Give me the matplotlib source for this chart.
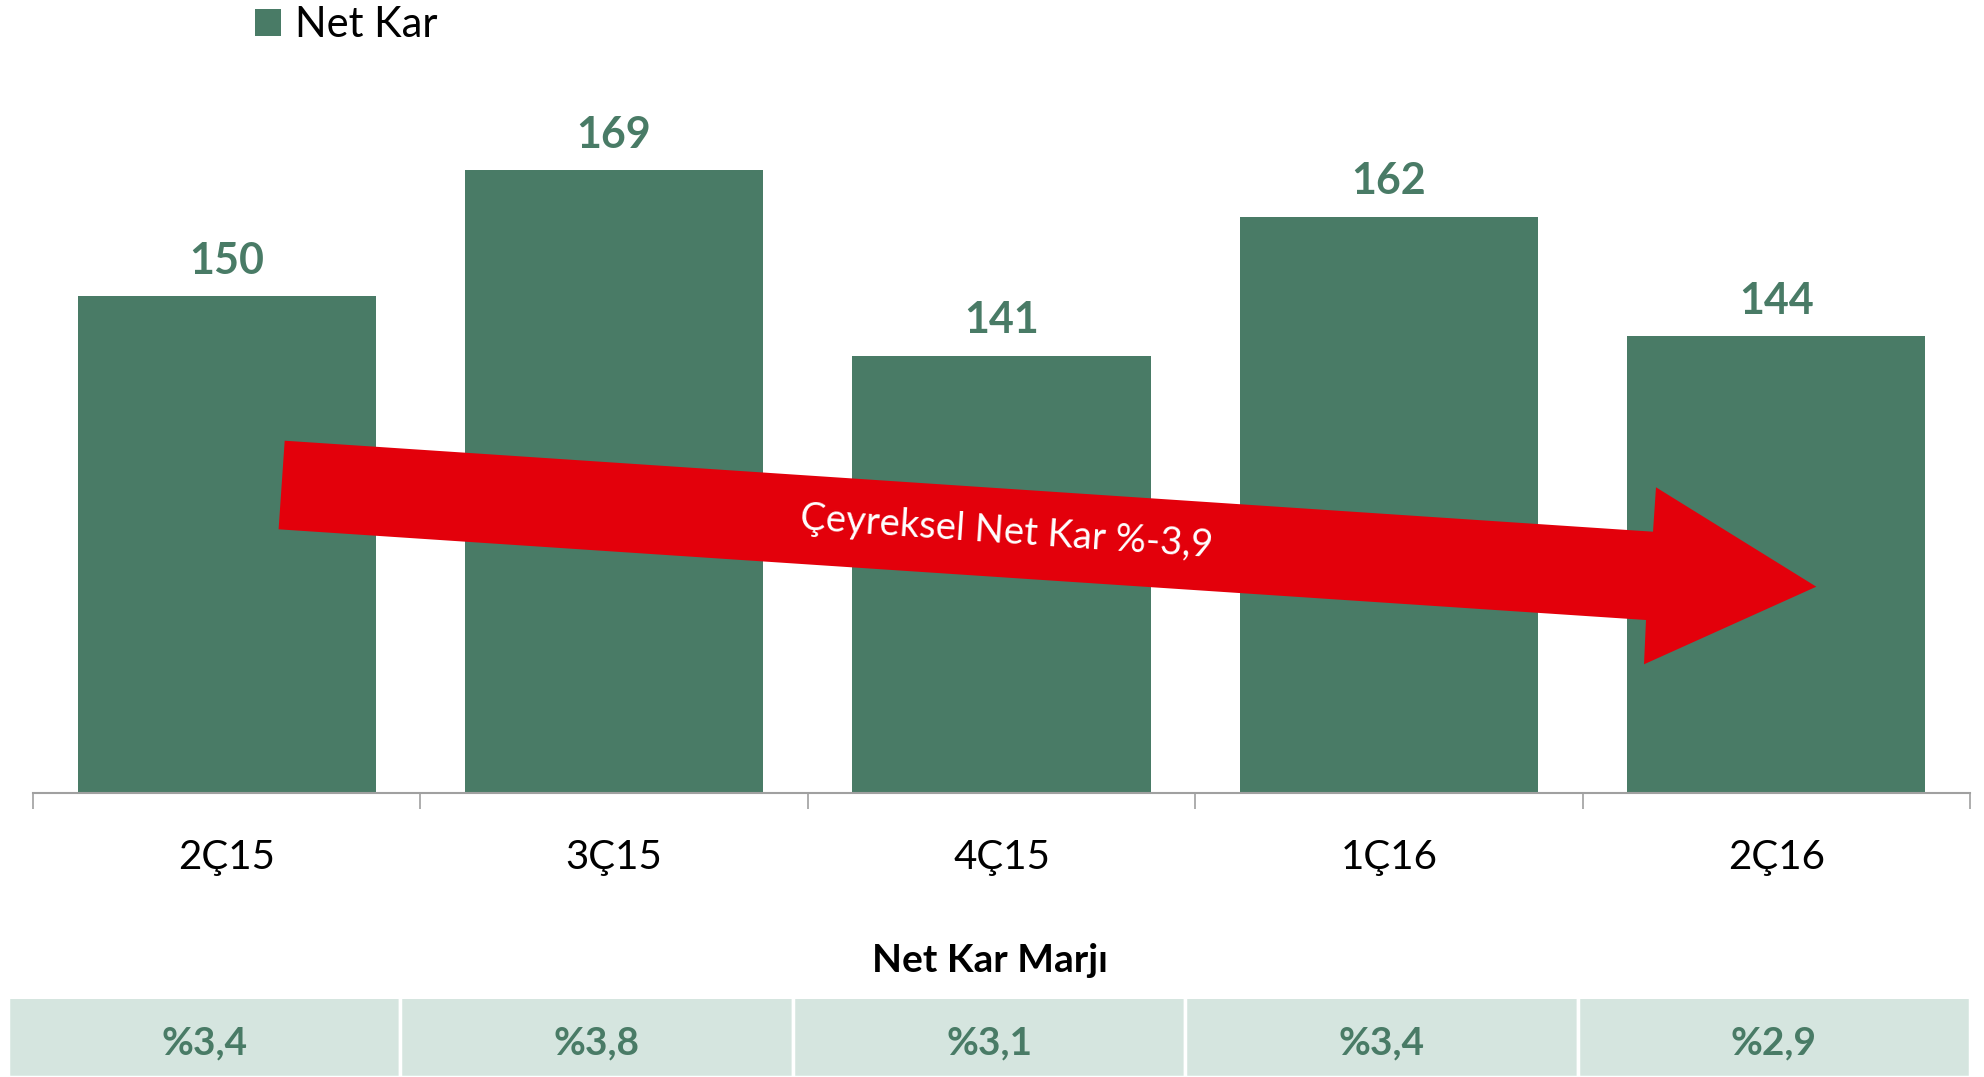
import matplotlib.pyplot as plt
from matplotlib.patches import Polygon

plt.rcParams['font.family'] = ['Lato', 'DejaVu Sans']

quarters = ["2Ç15", "3Ç15", "4Ç15", "1Ç16", "2Ç16"]
net_kar = [150, 169, 141, 162, 144]
margins = ["%3,4", "%3,8", "%3,1", "%3,4", "%2,9"]
arrow_label = "Çeyreksel Net Kar %-3,9"

green = "#497b66"
cell_color = "#d5e5df"
red = "#e3000b"

W, H = 1984, 1077
fig = plt.figure(figsize=(W / 100, H / 100), dpi=100)

# main bar chart
ax = fig.add_axes([33 / W, 1 - 793 / H, (1970 - 33) / W, (793 - 39) / H])
x = list(range(len(quarters)))
bars = ax.bar(x, net_kar, width=0.77, color=green, label="Net Kar", zorder=2)
ax.set_xlim(-0.5, len(quarters) - 0.5)
ax.set_ylim(75, 188.8)

for xi, v in zip(x, net_kar):
    ax.annotate(str(v), (xi, v), xytext=(0, 11), textcoords="offset points",
                ha="center", va="bottom", fontsize=31, fontweight="bold", color=green)

for s in ["top", "right", "left"]:
    ax.spines[s].set_visible(False)
ax.spines["bottom"].set_color("#a0a0a0")
ax.spines["bottom"].set_linewidth(1.5)
ax.set_yticks([])
ax.set_xticks([i - 0.5 for i in range(len(quarters) + 1)])
ax.set_xticklabels([])
ax.tick_params(axis="x", which="major", length=11.5, width=1.2, color="#a0a0a0")
ax.set_xticks(x, minor=True)
ax.set_xticklabels(quarters, minor=True, fontsize=29)
ax.tick_params(axis="x", which="minor", length=0, pad=33)

fig.legend(handles=[bars], labels=["Net Kar"], loc="upper left",
           bbox_to_anchor=(255 / W, 1 - 6 / H), frameon=False, fontsize=30,
           handlelength=0.62, handleheight=0.62, handletextpad=0.35,
           borderpad=0, borderaxespad=0)

# arrow
pts = [(284.7, 440.7), (1653, 531.7), (1656, 487.3), (1816.3, 586.7),
       (1644, 664.3), (1646, 620), (278.6, 529.3)]
arrow = Polygon([(px / W, 1 - py / H) for px, py in pts], closed=True,
                facecolor=red, edgecolor="none", transform=fig.transFigure, zorder=5)
fig.patches.append(arrow)
fig.text(1006 / W, 1 - 532 / H, arrow_label, color="white", fontsize=27.5,
         rotation=-3.9, ha="center", va="center", zorder=6)

# margin table
fig.text(990 / W, 1 - 960 / H, "Net Kar Marjı", ha="center", va="center",
         fontsize=28, fontweight="bold", color="black")
tax = fig.add_axes([8 / W, 0, (1970 - 8) / W, (1077 - 999) / H])
tax.bar(x, [1.1] * len(margins), width=1.0, color=cell_color, edgecolor="white", linewidth=2.5)
for xi, m in zip(x, margins):
    tax.text(xi, 0.43, m, ha="center", va="center", fontsize=28,
             fontweight="bold", color=green)
tax.set_xlim(-0.5, len(margins) - 0.5)
tax.set_ylim(0, 1)
tax.axis("off")

fig.savefig("out.png", dpi=100)
